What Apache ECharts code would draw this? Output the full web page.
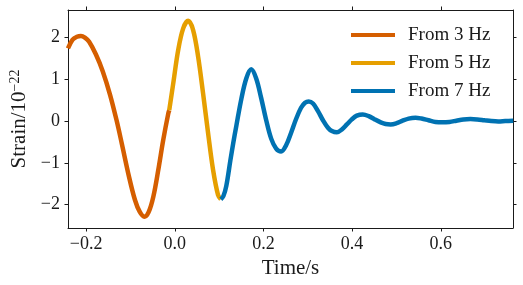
<!DOCTYPE html>
<html>
<head>
<meta charset="utf-8">
<script src="https://cdn.jsdelivr.net/npm/echarts@6/dist/echarts.min.js"></script>
<style>
html,body{margin:0;padding:0;background:#fff;}
#chart{width:523px;height:285px;}
</style>
</head>
<body>
<div id="chart"></div>
<script>
// ---- data ----
const seriesNames = ['From 3 Hz', 'From 5 Hz', 'From 7 Hz'];
const xTicks = [-0.2, 0.0, 0.2, 0.4, 0.6];
const yTicks = [-2, -1, 0, 1, 2];
const xLimits = [-0.241, 0.763];
const yLimits = [-2.56, 2.66];

const t3 = [-0.2411, -0.2306, -0.2209, -0.2119, -0.2029, -0.1933, -0.1782, -0.1625, -0.1461, -0.1310,
            -0.1198, -0.1034, -0.0899, -0.0793, -0.0688, -0.0591, -0.0485, -0.0373, -0.0261, -0.0148, -0.0126];
const h3 = [1.74, 1.95, 2.02, 2.04, 2.00, 1.90, 1.60, 1.19, 0.63, 0.00,
            -0.53, -1.33, -1.89, -2.17, -2.29, -2.18, -1.81, -1.17, -0.45, 0.18, 0.26];

const t5 = [-0.0126, -0.0036, 0.0076, 0.0189, 0.0301, 0.0413, 0.0526, 0.0638, 0.0751, 0.0863, 0.0975, 0.1038];
const h5 = [0.26, 0.90, 1.70, 2.22, 2.40, 2.18, 1.54, 0.66, -0.29, -1.17, -1.77, -1.87];

const t7 = [0.1038, 0.1094, 0.1162, 0.1252, 0.1319, 0.1387, 0.1499, 0.1612, 0.1724, 0.1836,
            0.1949, 0.2062, 0.2174, 0.2286, 0.2399, 0.2511, 0.2624, 0.2736, 0.2848, 0.2938,
            0.3020, 0.3118, 0.3230, 0.3342, 0.3455, 0.3544, 0.3656, 0.3769, 0.3881, 0.3993,
            0.4106, 0.4240, 0.4375, 0.4510, 0.4645, 0.4757, 0.4870, 0.5004, 0.5139, 0.5274,
            0.5431, 0.5566, 0.5723, 0.5881, 0.6038, 0.6196, 0.6353, 0.6510, 0.6668, 0.6825,
            0.6982, 0.7139, 0.7297, 0.7454, 0.7634];
const h7 = [-1.87, -1.80, -1.55, -0.95, -0.52, -0.12, 0.52, 1.02, 1.24, 1.02,
            0.55, 0.02, -0.42, -0.66, -0.73, -0.58, -0.28, 0.05, 0.32, 0.44,
            0.47, 0.42, 0.24, 0.02, -0.16, -0.24, -0.27, -0.20, -0.08, 0.04,
            0.13, 0.16, 0.12, 0.04, -0.03, -0.07, -0.08, -0.05, 0.01, 0.06,
            0.08, 0.06, 0.02, -0.02, -0.03, -0.02, 0.01, 0.04, 0.05, 0.04,
            0.02, 0.00, -0.01, 0.00, 0.01];

const colors = ['#d55e00', '#e69f00', '#0072b2'];
// --------------------------------------

const zip = (a, b) => a.map((v, i) => [v, b[i]]);
const FONT = '"Liberation Serif", "DejaVu Serif", serif';
const INK = '#1a1a1a';
const minus = s => String(s).replace('-', '\u2212');

const axisCommon = {
  axisLine: { show: true, onZero: false, lineStyle: { color: INK, width: 1 } },
  axisTick: { show: true, inside: false, length: 3.5, lineStyle: { color: INK, width: 1 } },
  splitLine: { show: false }
};

const chart = echarts.init(document.getElementById('chart'), null, { renderer: 'canvas' });
chart.setOption({
  animation: false,
  backgroundColor: '#fff',
  grid: { left: 66, right: 10, top: 10, bottom: 57, containLabel: false },
  legend: {
    orient: 'vertical',
    left: 351, top: 25,
    padding: 0,
    icon: 'rect',
    itemWidth: 44, itemHeight: 4,
    itemGap: 8,
    data: seriesNames,
    textStyle: { fontFamily: FONT, fontSize: 19, color: INK, lineHeight: 20, padding: [0, 0, 0, 8] }
  },
  xAxis: [
    Object.assign({}, axisCommon, {
      type: 'value', position: 'bottom', min: xLimits[0], max: xLimits[1],
      name: 'Time/s', nameLocation: 'middle', nameGap: 25,
      nameTextStyle: { fontFamily: FONT, fontSize: 21, color: INK },
      axisTick: Object.assign({}, axisCommon.axisTick, { customValues: xTicks }),
      axisLabel: { customValues: xTicks, margin: 7, fontFamily: FONT, fontSize: 18, color: INK,
                   formatter: v => minus(v.toFixed(1)) }
    }),
    Object.assign({}, axisCommon, {
      type: 'value', position: 'top', min: xLimits[0], max: xLimits[1],
      axisTick: Object.assign({}, axisCommon.axisTick, { customValues: xTicks }),
      axisLabel: { show: false, customValues: xTicks }
    })
  ],
  yAxis: [
    Object.assign({}, axisCommon, {
      type: 'value', position: 'left', min: yLimits[0], max: yLimits[1],
      name: 'Strain/10{sup|\u221222}', nameLocation: 'middle', nameGap: 38,
      nameTextStyle: { fontFamily: FONT, fontSize: 21, color: INK,
        rich: { sup: { fontFamily: FONT, fontSize: 14, color: INK, verticalAlign: 'top', padding: [0, 0, 8, 0] } } },
      axisTick: Object.assign({}, axisCommon.axisTick, { customValues: yTicks }),
      axisLabel: { customValues: yTicks, margin: 8, fontFamily: FONT, fontSize: 18, color: INK,
                   formatter: v => minus(v) }
    }),
    Object.assign({}, axisCommon, {
      type: 'value', position: 'right', min: yLimits[0], max: yLimits[1],
      axisTick: Object.assign({}, axisCommon.axisTick, { customValues: yTicks }),
      axisLabel: { show: false, customValues: yTicks }
    })
  ],
  series: [
    { name: seriesNames[0], data: zip(t3, h3) },
    { name: seriesNames[1], data: zip(t5, h5) },
    { name: seriesNames[2], data: zip(t7, h7) }
  ].map((s, i) => Object.assign({
    type: 'line', xAxisIndex: 0, yAxisIndex: 0,
    showSymbol: false, symbol: 'none', smooth: 0.35, clip: true,
    color: colors[i],
    itemStyle: { color: colors[i] },
    lineStyle: { color: colors[i], width: 4.5, cap: 'butt', join: 'round' },
    z: 2 + i
  }, s))
});
</script>
</body>
</html>
